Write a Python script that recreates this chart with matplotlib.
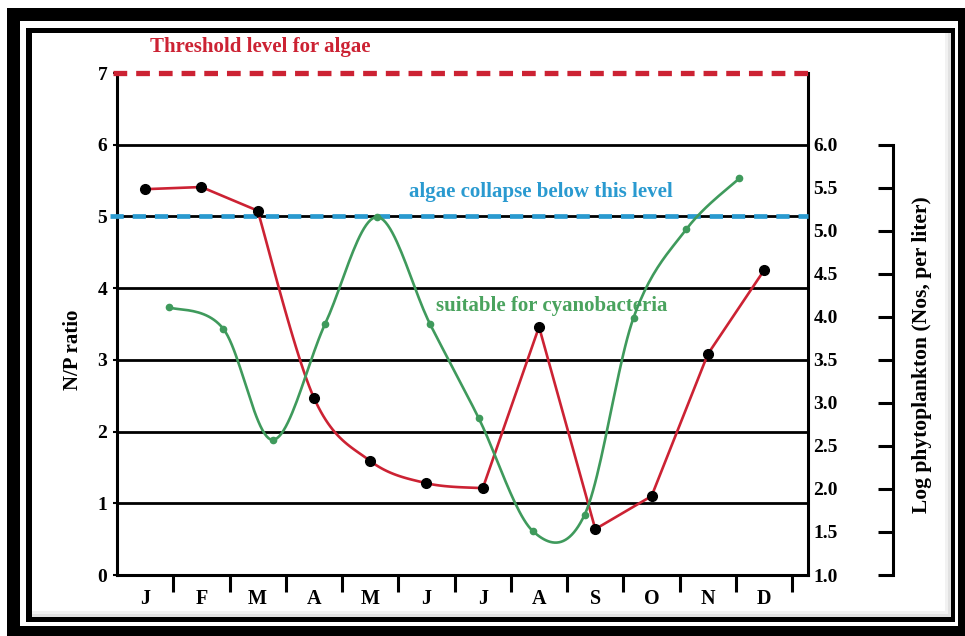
import numpy as np
import matplotlib
matplotlib.use("Agg")
import matplotlib.pyplot as plt
from matplotlib.patches import Rectangle

# values
months = ["J", "F", "M", "A", "M", "J", "J", "A", "S", "O", "N", "D"]
np_ratio = [5.38, 5.41, 5.08, 2.47, 1.59, 1.28, 1.21, 3.46, 0.64, 1.10, 3.08, 4.25]
phyto_x = [0.43, 1.39, 2.27, 3.20, 4.12, 5.06, 5.93, 6.89, 7.81, 8.68, 9.62, 10.56]
phyto_log = [4.11, 3.86, 2.57, 3.92, 5.16, 3.92, 2.82, 1.51, 1.70, 3.99, 5.02, 5.61]
left_ticks = [0, 1, 2, 3, 4, 5, 6, 7]
right_ticks = [1.0, 1.5, 2.0, 2.5, 3.0, 3.5, 4.0, 4.5, 5.0, 5.5, 6.0]
threshold = 7
collapse = 5

RED = "#cc2233"
BLUE = "#2a9ad0"
GREEN = "#3f9a5c"
SERIF = "Liberation Serif"

W, H = 965, 636


def catmull(xs, ys, n=25):
    p = np.column_stack([xs, ys]).astype(float)
    p = np.vstack([p[0], p, p[-1]])
    out = []
    t = np.linspace(0, 1, n)[:, None]
    for i in range(1, len(p) - 2):
        p0, p1, p2, p3 = p[i - 1], p[i], p[i + 1], p[i + 2]
        seg = 0.5 * (2 * p1 + (-p0 + p2) * t + (2 * p0 - 5 * p1 + 4 * p2 - p3) * t ** 2
                     + (-p0 + 3 * p1 - 3 * p2 + p3) * t ** 3)
        out.append(seg)
    out = np.vstack(out)
    return out[:, 0], out[:, 1]


fig = plt.figure(figsize=(W / 100, H / 100), dpi=100)
fig.patch.set_facecolor("white")


def px_rect(x0, y0, x1, y1, color, z=-10):
    r = Rectangle((x0 / W, 1 - y1 / H), (x1 - x0) / W, (y1 - y0) / H,
                  transform=fig.transFigure, facecolor=color, edgecolor="none", zorder=z)
    fig.patches.append(r)


# frame
px_rect(7, 8, 965, 636, "black")
px_rect(20, 21, 958, 626, "white")
px_rect(26, 28, 955, 622, "black")
px_rect(32, 33, 951, 617, "#e2e2e2")
px_rect(32, 33, 948, 614, "#f2f2f2")
px_rect(32, 33, 945, 611, "white")

ax = fig.add_axes([117 / W, 61 / H, (808 - 117) / W, (563 - 61) / H])
ax.set_facecolor("none")
x_idx = np.arange(len(months))
ax.set_xlim(-0.5, 11.78)
ax.set_ylim(0, 7)

ax.spines["top"].set_visible(False)
for s in ["left", "bottom", "right"]:
    ax.spines[s].set_linewidth(2.2)

for yv in [1, 2, 3, 4, 5, 6]:
    ax.axhline(yv, color="black", lw=2.0, zorder=1)

ax.plot([-0.57, 11.78], [threshold, threshold], color=RED, lw=3.8,
        dashes=(2.6, 1.7), clip_on=False, zorder=3)
ax.plot([-0.62, 11.78], [collapse, collapse], color=BLUE, lw=3.4,
        dashes=(2.8, 1.9), clip_on=False, zorder=3)

# red N/P line: straight ends, curved middle section
rx, ry = catmull(x_idx[2:7], np_ratio[2:7])
red_x = np.concatenate([x_idx[:2], rx, x_idx[7:]])
red_y = np.concatenate([np_ratio[:2], ry, np_ratio[7:]])
ax.plot(red_x, red_y, color=RED, lw=1.9, zorder=4)
ax.plot(x_idx, np_ratio, "o", color="black", ms=7, zorder=5)

ax.set_yticks(left_ticks)
ax.set_yticklabels([str(v) for v in left_ticks], fontfamily=SERIF,
                   fontweight="bold", fontsize=14)
ax.tick_params(axis="y", length=3, width=1.5, pad=4)
ax.set_xticks(x_idx + 0.5)
ax.set_xticklabels([])
ax.set_xticks(x_idx, minor=True)
ax.set_xticklabels(months, minor=True, fontfamily=SERIF, fontweight="bold", fontsize=14.5)
ax.tick_params(axis="x", which="major", length=12, width=2.2, direction="out")
ax.tick_params(axis="x", which="minor", length=0, pad=10)
ax.set_ylabel("N/P ratio", fontfamily=SERIF, fontweight="bold", fontsize=15)
ax.yaxis.set_label_coords(-0.064, 0.448)
ax.yaxis.label.set_va("center")

ax.text(2.04, 7.36, "Threshold level for algae", color=RED, fontfamily=SERIF,
        fontweight="bold", fontsize=15, ha="center", va="center", clip_on=False)
ax.text(7.03, 5.34, "algae collapse below this level", color=BLUE, fontfamily=SERIF,
        fontweight="bold", fontsize=15, ha="center", va="center")
ax.text(7.23, 3.75, "suitable for cyanobacteria", color="#4aa35e", fontfamily=SERIF,
        fontweight="bold", fontsize=15, ha="center", va="center")

# right axis labels next to plot
ax2 = ax.twinx()
ax2.set_ylim(1, 1 + 7 * 5 / 6)
for s in ["top", "left", "bottom", "right"]:
    ax2.spines[s].set_visible(False)
ax2.set_yticks(right_ticks)
ax2.set_yticklabels([f"{v:.1f}" for v in right_ticks], fontfamily=SERIF,
                    fontweight="bold", fontsize=14)
ax2.tick_params(axis="y", length=0, pad=4)

gx, gy = catmull(phyto_x, phyto_log)
ax2.plot(gx, gy, color=GREEN, lw=1.9, zorder=4)
ax2.plot(phyto_x, phyto_log, "o", color=GREEN, ms=4.5, zorder=5)

# detached right scale
ax3 = ax.twinx()
ax3.set_ylim(1, 1 + 7 * 5 / 6)
for s in ["top", "left", "bottom"]:
    ax3.spines[s].set_visible(False)
ax3.spines["right"].set_position(("axes", 1.123))
ax3.spines["right"].set_bounds(1, 6)
ax3.spines["right"].set_linewidth(2.2)
ax3.set_yticks(right_ticks)
ax3.set_yticklabels([])
ax3.tick_params(axis="y", direction="in", length=11, width=2.2)
ax3.set_ylabel("Log phytoplankton (Nos, per liter)", fontfamily=SERIF,
               fontweight="bold", fontsize=15.5)
ax3.yaxis.set_label_coords(1.165, 0.438)
ax3.yaxis.label.set_va("center")

fig.savefig("out.png", dpi=100)
